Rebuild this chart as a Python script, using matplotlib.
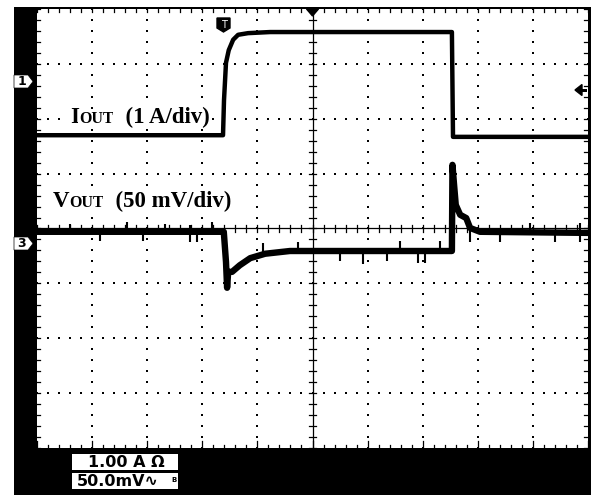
import matplotlib
matplotlib.use("Agg")
import matplotlib.pyplot as plt
from matplotlib.patches import Polygon, Rectangle
from matplotlib.transforms import Affine2D
import numpy as np

W, H = 591, 495

# ---------------- data (screen divisions: x 0..10, y 0..8) ----------------
t_iout = [0.00, 3.376, 3.394, 3.43, 3.48, 3.56, 3.65, 3.83, 4.23, 7.53, 7.55, 10.0]
iout   = [5.70, 5.70, 6.34, 7.02, 7.25, 7.44, 7.53, 7.56, 7.58, 7.58, 5.67, 5.67]

t_vout = [0.00, 3.39, 3.43, 3.45, 3.47, 3.54, 3.68, 3.87, 4.14, 4.59, 7.53,
          7.54, 7.57, 7.60, 7.68, 7.79, 7.86, 8.04, 10.0]
vout   = [3.94, 3.94, 3.39, 2.92, 3.21, 3.21, 3.33, 3.46, 3.54, 3.59, 3.59,
          5.16, 4.79, 4.43, 4.25, 4.19, 4.01, 3.94, 3.92]

# noise spikes on the Vout trace: time, low, high
spike_t  = [0.60, 1.14, 1.63, 1.92, 2.32, 2.78, 2.90, 3.18, 4.10, 4.74, 5.50,
            5.92, 6.35, 6.59, 6.91, 7.04, 7.31, 7.86, 8.40, 8.95, 9.40, 9.85]
spike_lo = [3.90, 3.78, 3.90, 3.77, 3.90, 3.76, 3.75, 3.90, 3.55, 3.55, 3.40,
            3.36, 3.41, 3.55, 3.37, 3.38, 3.55, 3.75, 3.76, 3.88, 3.76, 3.76]
spike_hi = [4.08, 3.98, 4.11, 3.98, 4.09, 4.07, 3.98, 4.11, 3.74, 3.76, 3.63,
            3.63, 3.63, 3.77, 3.63, 3.63, 3.78, 3.96, 3.96, 4.10, 3.96, 4.10]

iout_label = ["I", "OUT", "  (1 A/div)"]
vout_label = ["V", "OUT", "  (50 mV/div)"]
scale_labels = ["1.00 A \u03a9", "50.0mV\u223f"]
channel_marks = ["1", "3"]

# ---------------- figure ----------------
fig = plt.figure(figsize=(W / 100, H / 100), dpi=100, facecolor="white")
pix = Affine2D().scale(1, -1).translate(0, H)   # pixel (top-left origin) -> display

fig.add_artist(Rectangle((14, 7), W - 14, H - 7, transform=pix,
                         facecolor="black", edgecolor="none", zorder=-10))

ax = fig.add_axes([37 / W, (H - 448) / H, 551 / W, 439 / H])
ax.set_zorder(0)
ax.set_facecolor("white")
ax.set_xlim(0, 10)
ax.set_ylim(0, 8)
ax.set_xticks([])
ax.set_yticks([])
for s in ax.spines.values():
    s.set_visible(False)

# grid dots
fine_x = np.arange(0, 51) * 0.2
fine_y = np.arange(0, 41) * 0.2
for gy in [1, 2, 3, 5, 6, 7]:
    ax.plot(fine_x, [gy] * len(fine_x), ls="none", marker="s", ms=1.5,
            color="black", mew=0)
for gx in [1, 2, 3, 4, 6, 7, 8, 9]:
    ax.plot([gx] * len(fine_y), fine_y, ls="none", marker="s", ms=1.5,
            color="black", mew=0)

# center lines with ticks
ax.axvline(5, color="black", lw=0.9)
ax.axhline(4, color="black", lw=0.9)
for yv in fine_y:
    ax.plot([4.93, 5.07], [yv, yv], color="black", lw=0.9)
for xv in fine_x:
    ax.plot([xv, xv], [3.93, 4.07], color="black", lw=0.9)

# border ticks
for xv in fine_x:
    ax.plot([xv, xv], [8, 7.94], color="black", lw=0.9)
    ax.plot([xv, xv], [0, 0.06 if (round(xv * 5) % 5) else 0.12], color="black", lw=0.9)
for yv in fine_y:
    ax.plot([0, 0.06], [yv, yv], color="black", lw=0.9)
    ax.plot([10, 9.93], [yv, yv], color="black", lw=0.9)

# traces
ax.plot(t_iout, iout, color="black", lw=3.2, solid_joinstyle="round")
ax.plot(t_vout, vout, color="black", lw=4.6, solid_joinstyle="round")
ax.vlines(spike_t, spike_lo, spike_hi, color="black", lw=1.5)

# labels with small caps (white background hides the grid behind them)
renderer = fig.canvas.get_renderer()

def run_text(x_px, base_py, parts, sizes):
    for s, fs in zip(parts, sizes):
        t = fig.text(x_px / W, 1 - base_py / H, s, fontsize=fs,
                     family="Liberation Serif", weight="bold", va="baseline",
                     ha="left", color="black",
                     bbox=dict(facecolor="white", edgecolor="none", pad=0.5))
        bb = t.get_window_extent(renderer)
        x_px = bb.x1

run_text(70, 123, iout_label, [16.5, 11.5, 16.5])
run_text(53, 207, vout_label, [16.5, 11.5, 16.5])

# trigger markers
fig.add_artist(Polygon([(217, 18), (230, 18), (230, 28), (223.5, 32), (217, 28)],
                       closed=True, transform=pix, facecolor="black", edgecolor="black"))
fig.text(223.5 / W, 1 - 24.5 / H, "T", fontsize=7, color="white", ha="center",
         va="center", family="DejaVu Sans")
fig.add_artist(Polygon([(306.5, 9), (318.5, 9), (312.5, 16)], closed=True,
                       transform=pix, facecolor="black", edgecolor="black"))
fig.add_artist(Polygon([(575, 90), (582, 84.5), (582, 95.5)], closed=True,
                       transform=pix, facecolor="black", edgecolor="black"))
fig.add_artist(Rectangle((581, 88.5), 6, 3, transform=pix, facecolor="black",
                         edgecolor="none"))

# channel markers on the left
for lab, cy in zip(channel_marks, [81.5, 243.5]):
    fig.add_artist(Polygon([(14, cy - 6.5), (28, cy - 6.5), (33, cy), (28, cy + 6.5),
                            (14, cy + 6.5)], closed=True, transform=pix,
                           facecolor="white", edgecolor="black", lw=0.5))
    fig.text(21.5 / W, 1 - cy / H, lab, fontsize=9, weight="bold", color="black",
             ha="center", va="center", family="DejaVu Sans")

# scale boxes
for lab, (y0, y1) in zip(scale_labels, [(454, 470), (473, 489)]):
    fig.add_artist(Rectangle((72, y0), 106, y1 - y0, transform=pix,
                             facecolor="white", edgecolor="none"))
fig.text(126 / W, 1 - 462.5 / H, scale_labels[0], fontsize=11.5, weight="bold",
         color="black", ha="center", va="center", family="DejaVu Sans")
fig.text(77 / W, 1 - 481.5 / H, scale_labels[1], fontsize=11.5, weight="bold",
         color="black", ha="left", va="center", family="DejaVu Sans")
fig.text(174 / W, 1 - 480 / H, "B", fontsize=5, weight="bold",
         color="black", ha="center", va="center", family="DejaVu Sans")

fig.savefig("out.png", dpi=100, facecolor="white")
